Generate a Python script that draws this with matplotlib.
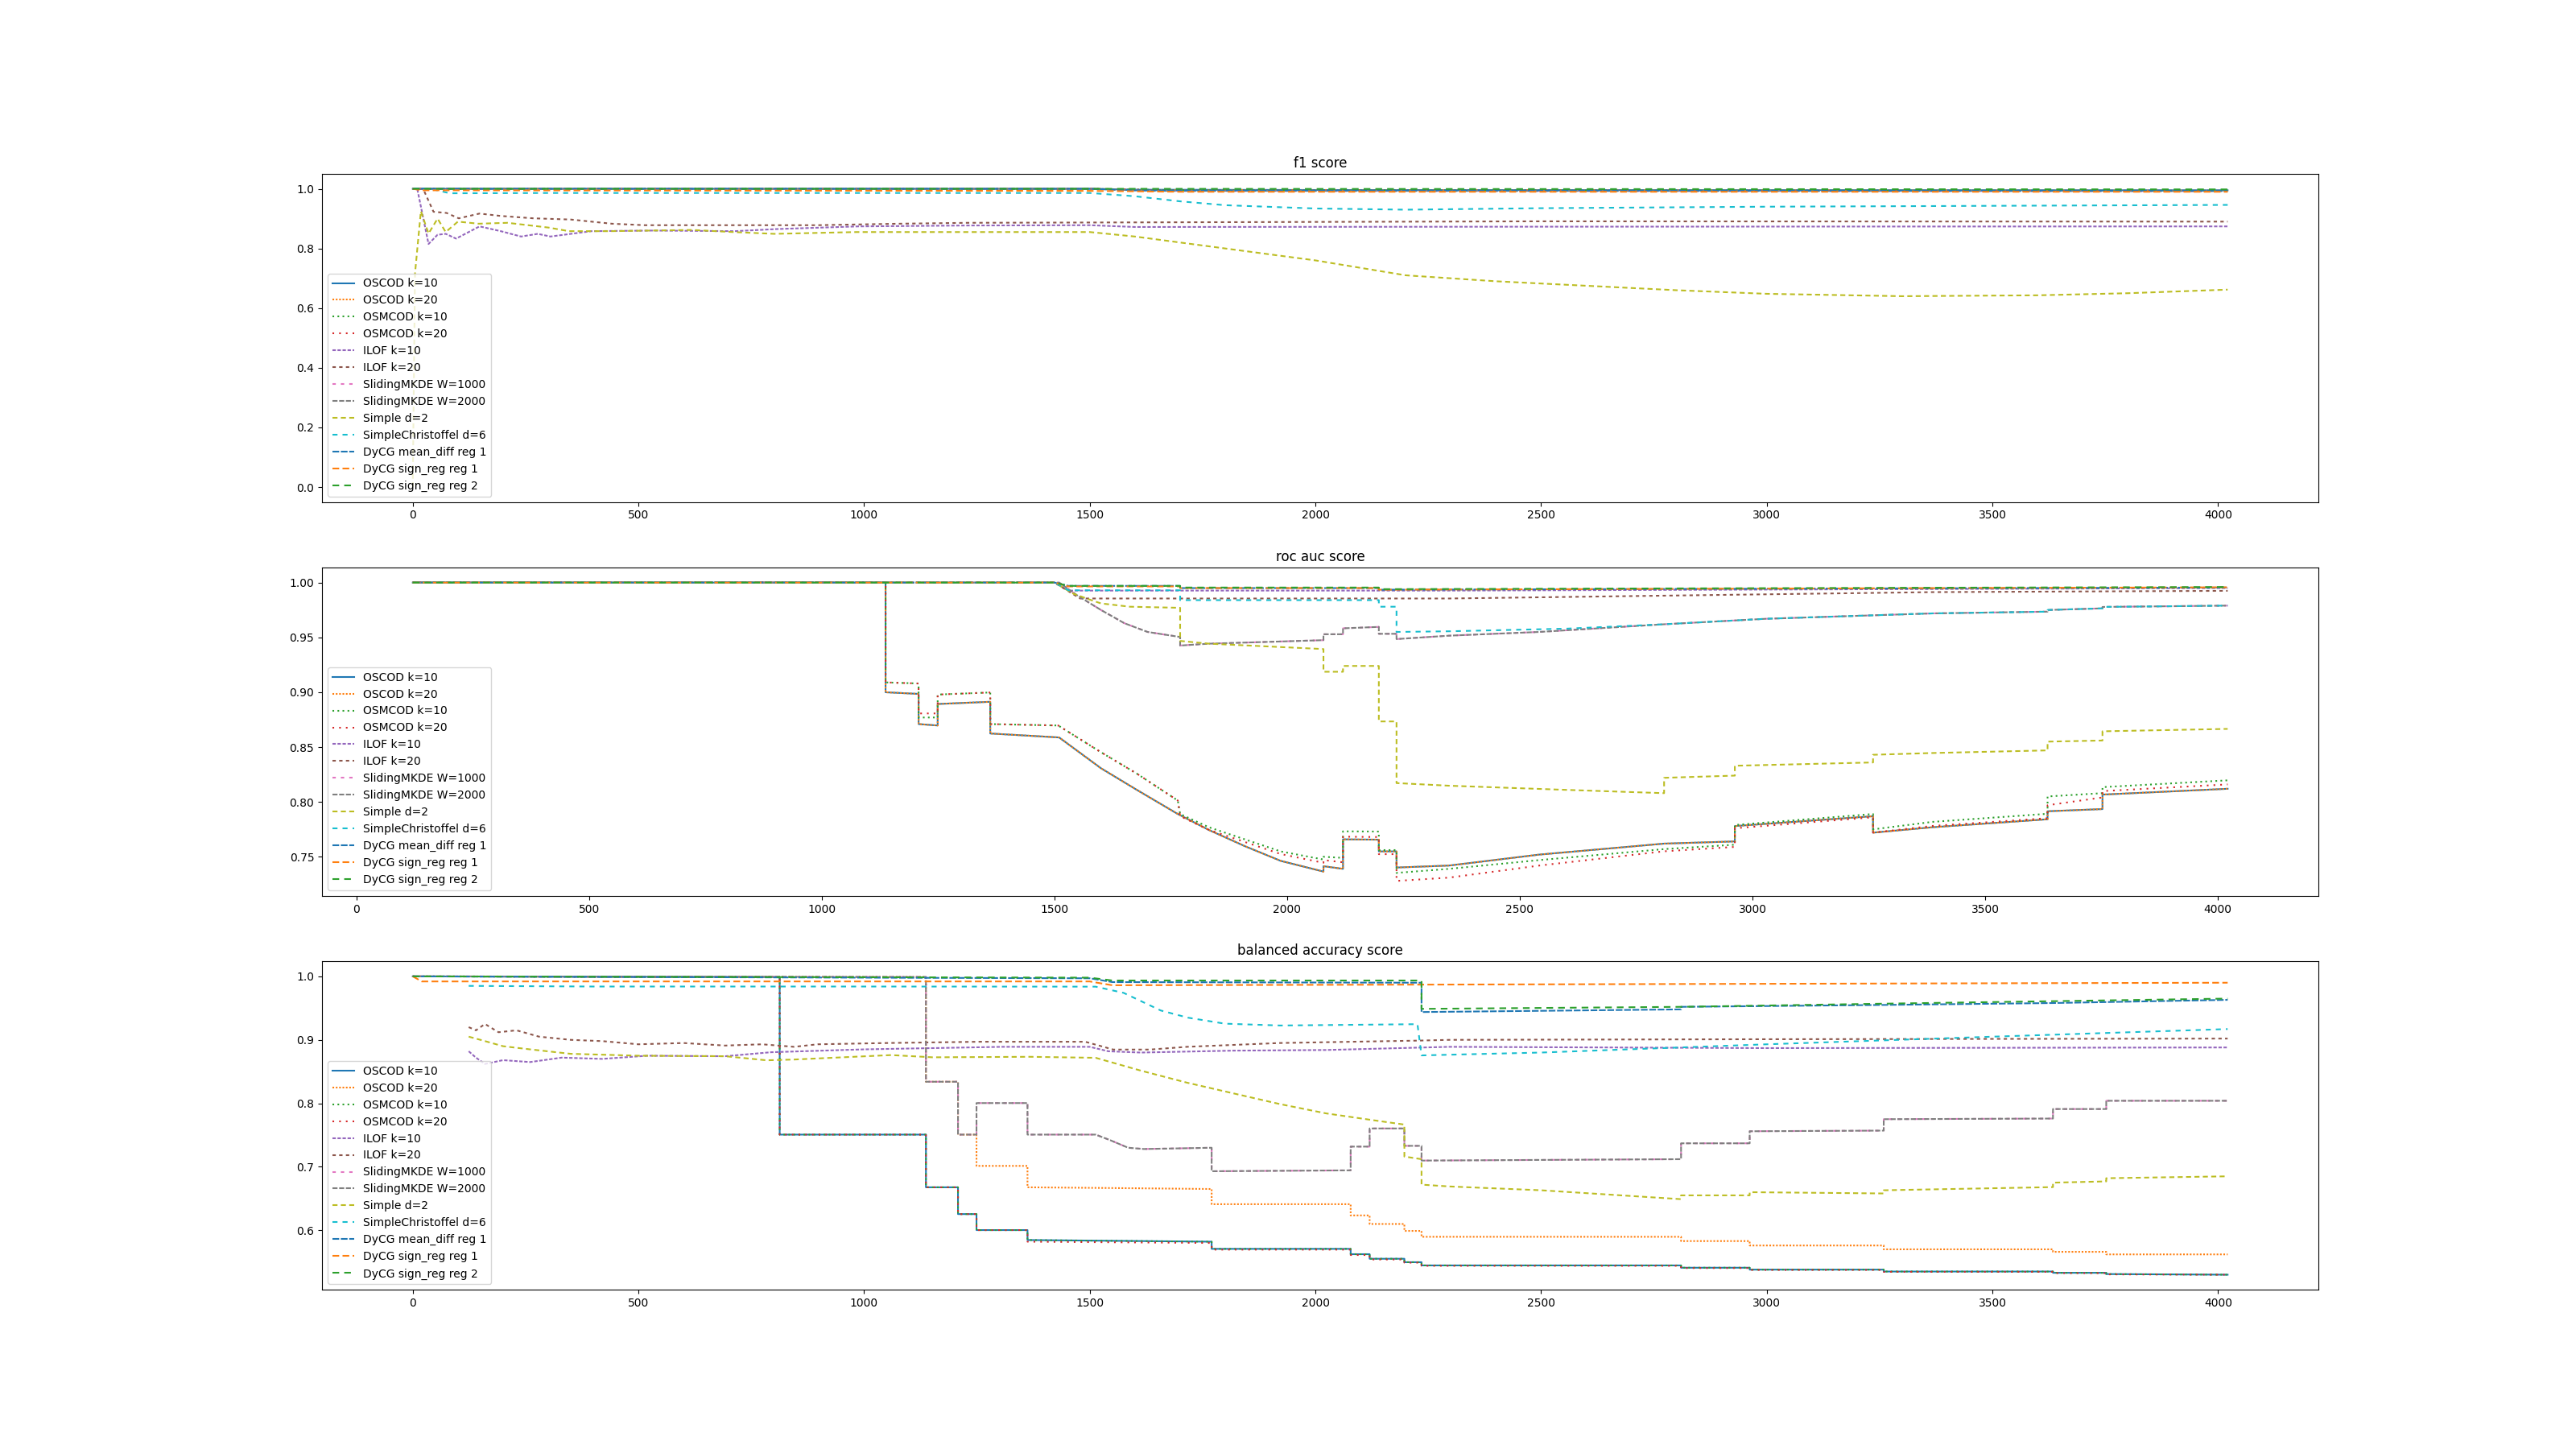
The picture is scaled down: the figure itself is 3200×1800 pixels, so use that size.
import matplotlib
matplotlib.use('Agg')
import matplotlib.pyplot as plt

plt.rcParams['figure.figsize'] = [32, 18]

labels = ['OSCOD k=10', 'OSCOD k=20', 'OSMCOD k=10', 'OSMCOD k=20', 'ILOF k=10', 'ILOF k=20',
          'SlidingMKDE W=1000', 'SlidingMKDE W=2000', 'Simple d=2', 'SimpleChristoffel d=6',
          'DyCG mean_diff reg 1', 'DyCG sign_reg reg 1', 'DyCG sign_reg reg 2']
styles = ['-', (0, (1, 1)), (0, (1, 2)), (0, (1, 3)), (0, (2, 1)), (0, (2, 2)),
          (0, (2, 3)), (0, (3, 1)), (0, (3, 2)), (0, (3, 3)),
          (0, (4, 1)), (0, (4, 2)), (0, (4, 3))]

# ---------------- f1 score ----------------
f1_oscod10 = [(0, 1.0), (1500, 1.0), (1600, 0.997), (2000, 0.996), (4021, 0.995)]
f1_oscod20 = [(0, 1.0), (1500, 1.0), (1600, 0.996), (4021, 0.994)]
f1_osmcod10 = [(0, 1.0), (1500, 1.0), (1700, 0.995), (4021, 0.993)]
f1_osmcod20 = [(0, 1.0), (1500, 1.0), (1700, 0.994), (4021, 0.993)]
f1_ilof10 = [(0, 1.0), (10, 1.0), (35, 0.815), (55, 0.846), (73, 0.849), (96, 0.833), (148, 0.874),
             (195, 0.858), (240, 0.840), (277, 0.849), (305, 0.840), (396, 0.858), (532, 0.860),
             (714, 0.858), (805, 0.865), (987, 0.874), (1231, 0.877), (1500, 0.878), (1600, 0.872),
             (2500, 0.873), (4021, 0.874)]
f1_ilof20 = [(0, 1.0), (23, 1.0), (46, 0.923), (75, 0.919), (102, 0.901), (148, 0.917), (195, 0.909),
             (268, 0.901), (350, 0.897), (441, 0.883), (514, 0.878), (896, 0.878), (1078, 0.883),
             (1231, 0.886), (1500, 0.887), (2500, 0.891), (4021, 0.890)]
f1_sliding1000 = [(0, 1.0), (1500, 1.0), (1650, 0.993), (4021, 0.992)]
f1_sliding2000 = [(0, 1.0), (1500, 1.0), (1650, 0.993), (4021, 0.992)]
f1_simple = [(0, 0.0), (5, 0.716), (18, 0.925), (35, 0.85), (55, 0.90), (73, 0.855), (100, 0.89),
             (146, 0.883), (210, 0.886), (301, 0.870), (346, 0.858), (437, 0.858), (619, 0.862),
             (710, 0.855), (801, 0.849), (983, 0.855), (1227, 0.855), (1500, 0.855), (1600, 0.84),
             (1800, 0.80), (2000, 0.76), (2200, 0.71), (2400, 0.69), (2600, 0.675), (2800, 0.66),
             (3000, 0.648), (3300, 0.64), (3600, 0.643), (3800, 0.65), (4021, 0.662)]
f1_christoffel = [(0, 1.0), (40, 1.0), (82, 0.985), (300, 0.986), (1500, 0.986), (1600, 0.975),
                  (1700, 0.958), (1800, 0.945), (2000, 0.934), (2200, 0.930), (2500, 0.935),
                  (3000, 0.94), (4021, 0.946)]
f1_dycg_mean = [(0, 1.0), (1500, 1.0), (1600, 0.995), (4021, 0.994)]
f1_dycg_sign1 = [(0, 1.0), (20, 0.995), (1500, 0.993), (1700, 0.99), (4021, 0.99)]
f1_dycg_sign2 = [(0, 1.0), (1500, 1.0), (4021, 0.998)]

# ---------------- roc auc score ----------------
roc_oscod10 = [(121, 1.0), (1137, 1.0), (1137, 0.900), (1208, 0.8985), (1208, 0.871), (1249, 0.8697),
               (1249, 0.8893), (1362, 0.8913), (1362, 0.8624), (1510, 0.8588), (1600, 0.8307),
               (1677, 0.811), (1765, 0.789), (1832, 0.7744), (1909, 0.7597), (1986, 0.7463),
               (2078, 0.7365), (2078, 0.7414), (2120, 0.739), (2120, 0.7659), (2197, 0.7656),
               (2197, 0.7549), (2235, 0.7549), (2235, 0.7402), (2348, 0.742), (2542, 0.752),
               (2810, 0.762), (2962, 0.764), (2962, 0.778), (3259, 0.787), (3259, 0.772),
               (3386, 0.7769), (3634, 0.7842), (3634, 0.7915), (3752, 0.7935), (3752, 0.8067),
               (4021, 0.812)]
roc_oscod20 = roc_oscod10
roc_osmcod10 = [(121, 1.0), (1137, 1.0), (1137, 0.909), (1208, 0.908), (1208, 0.877), (1249, 0.877),
                (1249, 0.8979), (1362, 0.8998), (1362, 0.871), (1508, 0.8697), (1600, 0.8453),
                (1677, 0.8258), (1765, 0.8013), (1770, 0.789), (1832, 0.7769), (1909, 0.7659),
                (1986, 0.7549), (2078, 0.7475), (2078, 0.750), (2120, 0.749), (2120, 0.7732),
                (2197, 0.7730), (2197, 0.7561), (2235, 0.7561), (2235, 0.7353), (2348, 0.739),
                (2542, 0.747), (2810, 0.757), (2962, 0.761), (2962, 0.779), (3259, 0.789),
                (3259, 0.775), (3386, 0.7818), (3634, 0.7892), (3634, 0.805), (3752, 0.808),
                (3752, 0.8135), (4021, 0.8197)]
roc_osmcod20 = [(121, 1.0), (1137, 1.0), (1137, 0.909), (1208, 0.908), (1208, 0.8807), (1249, 0.8807),
                (1249, 0.8979), (1362, 0.8998), (1362, 0.871), (1508, 0.8697), (1600, 0.8453),
                (1677, 0.8258), (1765, 0.8013), (1770, 0.787), (1832, 0.7745), (1909, 0.7635),
                (1986, 0.7525), (2078, 0.7445), (2078, 0.747), (2120, 0.745), (2120, 0.7683),
                (2197, 0.768), (2197, 0.7524), (2235, 0.7524), (2235, 0.728), (2348, 0.731),
                (2542, 0.742), (2810, 0.755), (2962, 0.759), (2962, 0.776), (3259, 0.786),
                (3259, 0.772), (3386, 0.7781), (3634, 0.7852), (3634, 0.797), (3752, 0.8041),
                (3752, 0.8099), (4021, 0.816)]
roc_ilof10 = [(121, 1.0), (1500, 1.0), (1530, 0.9927), (2348, 0.9927), (4021, 0.995)]
roc_ilof20 = [(121, 1.0), (1500, 1.0), (1555, 0.9855), (2348, 0.9855), (3386, 0.9913), (4021, 0.9925)]
roc_sliding1000 = [(121, 1.0), (1510, 1.0), (1550, 0.988), (1600, 0.975), (1650, 0.963), (1700, 0.955),
                   (1770, 0.9504), (1770, 0.9426), (1832, 0.9443), (2078, 0.9475), (2078, 0.9529),
                   (2120, 0.9529), (2120, 0.9583), (2197, 0.9596), (2197, 0.9533), (2235, 0.9533),
                   (2235, 0.9485), (2348, 0.9516), (2542, 0.955), (2810, 0.962), (3029, 0.967),
                   (3386, 0.9719), (3634, 0.9735), (3634, 0.975), (3752, 0.9765), (3752, 0.9778),
                   (4021, 0.979)]
roc_sliding2000 = roc_sliding1000
roc_simple = [(121, 1.0), (1500, 1.0), (1540, 0.99), (1570, 0.9853), (1600, 0.981), (1662, 0.978),
              (1770, 0.977), (1770, 0.9468), (1832, 0.9443), (2078, 0.9394), (2078, 0.9187),
              (2120, 0.9187), (2120, 0.924), (2197, 0.924), (2197, 0.8734), (2235, 0.8734),
              (2235, 0.8172), (2348, 0.8148), (2600, 0.811), (2810, 0.808), (2810, 0.822),
              (2962, 0.824), (2962, 0.833), (3259, 0.836), (3259, 0.843), (3386, 0.8446),
              (3634, 0.847), (3634, 0.855), (3752, 0.856), (3752, 0.8644), (4021, 0.8666)]
roc_christoffel = [(121, 1.0), (1500, 1.0), (1530, 0.993), (1770, 0.993), (1770, 0.984), (2197, 0.984),
                   (2197, 0.978), (2235, 0.978), (2235, 0.955), (2348, 0.9556), (2600, 0.958),
                   (2810, 0.962), (3029, 0.967), (3386, 0.9719), (3634, 0.9735), (3634, 0.975),
                   (3752, 0.9765), (3752, 0.9778), (4021, 0.979)]
roc_dycg_mean = [(121, 1.0), (1500, 1.0), (1530, 0.997), (1770, 0.997), (1770, 0.995), (2197, 0.995),
                 (2197, 0.9935), (4021, 0.9955)]
roc_dycg_sign1 = [(121, 1.0), (1500, 1.0), (1530, 0.9965), (1770, 0.9965), (1770, 0.995), (2197, 0.995),
                  (2197, 0.9935), (4021, 0.9957)]
roc_dycg_sign2 = [(121, 1.0), (1500, 1.0), (1530, 0.997), (1770, 0.997), (1770, 0.9955), (2197, 0.9955),
                  (2197, 0.994), (4021, 0.996)]

# ---------------- balanced accuracy score ----------------
ba_oscod10 = [(0, 1.0), (813, 0.999), (813, 0.7507), (1137, 0.7507), (1137, 0.6677), (1208, 0.6677),
              (1208, 0.6255), (1249, 0.6255), (1249, 0.6003), (1362, 0.6003), (1362, 0.5846),
              (1770, 0.582), (1770, 0.5707), (2078, 0.5707), (2078, 0.5623), (2120, 0.5623),
              (2120, 0.5551), (2197, 0.5551), (2197, 0.5497), (2235, 0.5497), (2235, 0.5446),
              (2810, 0.5446), (2810, 0.541), (2962, 0.541), (2962, 0.538), (3259, 0.538),
              (3259, 0.535), (3634, 0.535), (3634, 0.533), (3752, 0.533), (3752, 0.531), (4021, 0.530)]
ba_oscod20 = [(0, 1.0), (1137, 0.999), (1137, 0.834), (1208, 0.834), (1208, 0.7507), (1249, 0.7507),
              (1249, 0.7014), (1362, 0.7014), (1362, 0.6677), (1555, 0.6665), (1770, 0.665),
              (1770, 0.6411), (2078, 0.6411), (2078, 0.6234), (2120, 0.6234), (2120, 0.6099),
              (2197, 0.6099), (2197, 0.599), (2235, 0.599), (2235, 0.5897), (2810, 0.5897),
              (2810, 0.583), (2962, 0.583), (2962, 0.576), (3259, 0.576), (3259, 0.570),
              (3634, 0.570), (3634, 0.566), (3752, 0.566), (3752, 0.562), (4021, 0.562)]
ba_osmcod10 = ba_oscod10
ba_osmcod20 = [(0, 1.0), (813, 0.999), (813, 0.7507), (1137, 0.7507), (1137, 0.6677), (1208, 0.6677),
               (1208, 0.6255), (1249, 0.6255), (1249, 0.6003), (1362, 0.6003), (1362, 0.582),
               (1770, 0.580), (1770, 0.5695), (2078, 0.5695), (2078, 0.561), (2120, 0.561),
               (2120, 0.554), (2197, 0.554), (2197, 0.549), (2235, 0.549), (2235, 0.544),
               (2810, 0.544), (2810, 0.5405), (2962, 0.5405), (2962, 0.5375), (3259, 0.5375),
               (3259, 0.5345), (3634, 0.5345), (3634, 0.5325), (3752, 0.5325), (3752, 0.5305),
               (4021, 0.530)]
ba_ilof10 = [(124, 0.882), (140, 0.872), (160, 0.862), (200, 0.868), (260, 0.865), (330, 0.872),
             (420, 0.870), (520, 0.875), (692, 0.8742), (794, 0.8805), (999, 0.885), (1152, 0.887),
             (1306, 0.889), (1500, 0.889), (1541, 0.882), (1613, 0.880), (1818, 0.883), (2023, 0.884),
             (2297, 0.889), (3000, 0.887), (4021, 0.888)]
ba_ilof20 = [(124, 0.92), (140, 0.915), (160, 0.925), (190, 0.912), (230, 0.915), (280, 0.905),
             (350, 0.90), (420, 0.898), (500, 0.893), (600, 0.895), (692, 0.891), (774, 0.893),
             (845, 0.889), (897, 0.893), (1050, 0.895), (1255, 0.897), (1490, 0.897), (1552, 0.8847),
             (1634, 0.8847), (1715, 0.889), (1920, 0.895), (2227, 0.8988), (2297, 0.9), (3000, 0.901),
             (4021, 0.902)]
ba_sliding1000 = [(0, 1.0), (1137, 0.999), (1137, 0.834), (1208, 0.834), (1208, 0.7507), (1249, 0.7507),
                  (1249, 0.8004), (1362, 0.8004), (1362, 0.7507), (1513, 0.7507), (1545, 0.742),
                  (1585, 0.730), (1620, 0.728), (1770, 0.730), (1770, 0.693), (2078, 0.6944),
                  (2078, 0.7318), (2120, 0.7318), (2120, 0.7604), (2197, 0.7604), (2197, 0.733),
                  (2235, 0.733), (2235, 0.7098), (2810, 0.712), (2810, 0.737), (2962, 0.737),
                  (2962, 0.756), (3259, 0.757), (3259, 0.775), (3634, 0.776), (3634, 0.791),
                  (3752, 0.791), (3752, 0.804), (4021, 0.804)]
ba_sliding2000 = ba_sliding1000
ba_simple = [(124, 0.905), (150, 0.90), (200, 0.89), (260, 0.885), (350, 0.878), (500, 0.875),
             (692, 0.8742), (784, 0.8678), (845, 0.869), (1060, 0.876), (1152, 0.8725), (1367, 0.8733),
             (1513, 0.8717), (1613, 0.8515), (1715, 0.8326), (1818, 0.8157), (1920, 0.799),
             (2023, 0.7842), (2125, 0.7737), (2197, 0.7665), (2197, 0.7161), (2235, 0.712),
             (2235, 0.6719), (2297, 0.669), (2500, 0.663), (2810, 0.649), (2810, 0.655), (2962, 0.655),
             (2962, 0.660), (3259, 0.658), (3259, 0.663), (3634, 0.668), (3634, 0.675), (3752, 0.677),
             (3752, 0.682), (4021, 0.685)]
ba_christoffel = [(124, 0.985), (400, 0.984), (1000, 0.984), (1513, 0.9838), (1575, 0.974), (1657, 0.9463),
                  (1717, 0.935), (1799, 0.9255), (1922, 0.9226), (2226, 0.9247), (2235, 0.8755),
                  (2500, 0.88), (3000, 0.893), (3500, 0.905), (4021, 0.917)]
ba_dycg_mean = [(0, 1.0), (1500, 0.997), (1550, 0.991), (2235, 0.99), (2235, 0.9438), (2810, 0.948),
                (2810, 0.952), (3259, 0.955), (3634, 0.958), (4021, 0.963)]
ba_dycg_sign1 = [(0, 1.0), (20, 0.992), (1500, 0.992), (1550, 0.986), (2235, 0.987), (4021, 0.99)]
ba_dycg_sign2 = [(0, 1.0), (1500, 0.998), (1550, 0.9935), (2235, 0.9935), (2235, 0.9488), (2810, 0.952),
                 (3259, 0.957), (4021, 0.965)]

f1_all = [f1_oscod10, f1_oscod20, f1_osmcod10, f1_osmcod20, f1_ilof10, f1_ilof20, f1_sliding1000,
          f1_sliding2000, f1_simple, f1_christoffel, f1_dycg_mean, f1_dycg_sign1, f1_dycg_sign2]
roc_all = [roc_oscod10, roc_oscod20, roc_osmcod10, roc_osmcod20, roc_ilof10, roc_ilof20, roc_sliding1000,
           roc_sliding2000, roc_simple, roc_christoffel, roc_dycg_mean, roc_dycg_sign1, roc_dycg_sign2]
ba_all = [ba_oscod10, ba_oscod20, ba_osmcod10, ba_osmcod20, ba_ilof10, ba_ilof20, ba_sliding1000,
          ba_sliding2000, ba_simple, ba_christoffel, ba_dycg_mean, ba_dycg_sign1, ba_dycg_sign2]

titles = ['f1 score', 'roc auc score', 'balanced accuracy score']

fig, axes = plt.subplots(3, 1)
for ax, metric, title in zip(axes, [f1_all, roc_all, ba_all], titles):
    for series, label, ls in zip(metric, labels, styles):
        xs = [p[0] for p in series]
        ys = [p[1] for p in series]
        ax.plot(xs, ys, linestyle=ls, label=label)
    ax.set_title(title)
    ax.legend(loc='lower left')

plt.savefig('out.png', dpi=100)
